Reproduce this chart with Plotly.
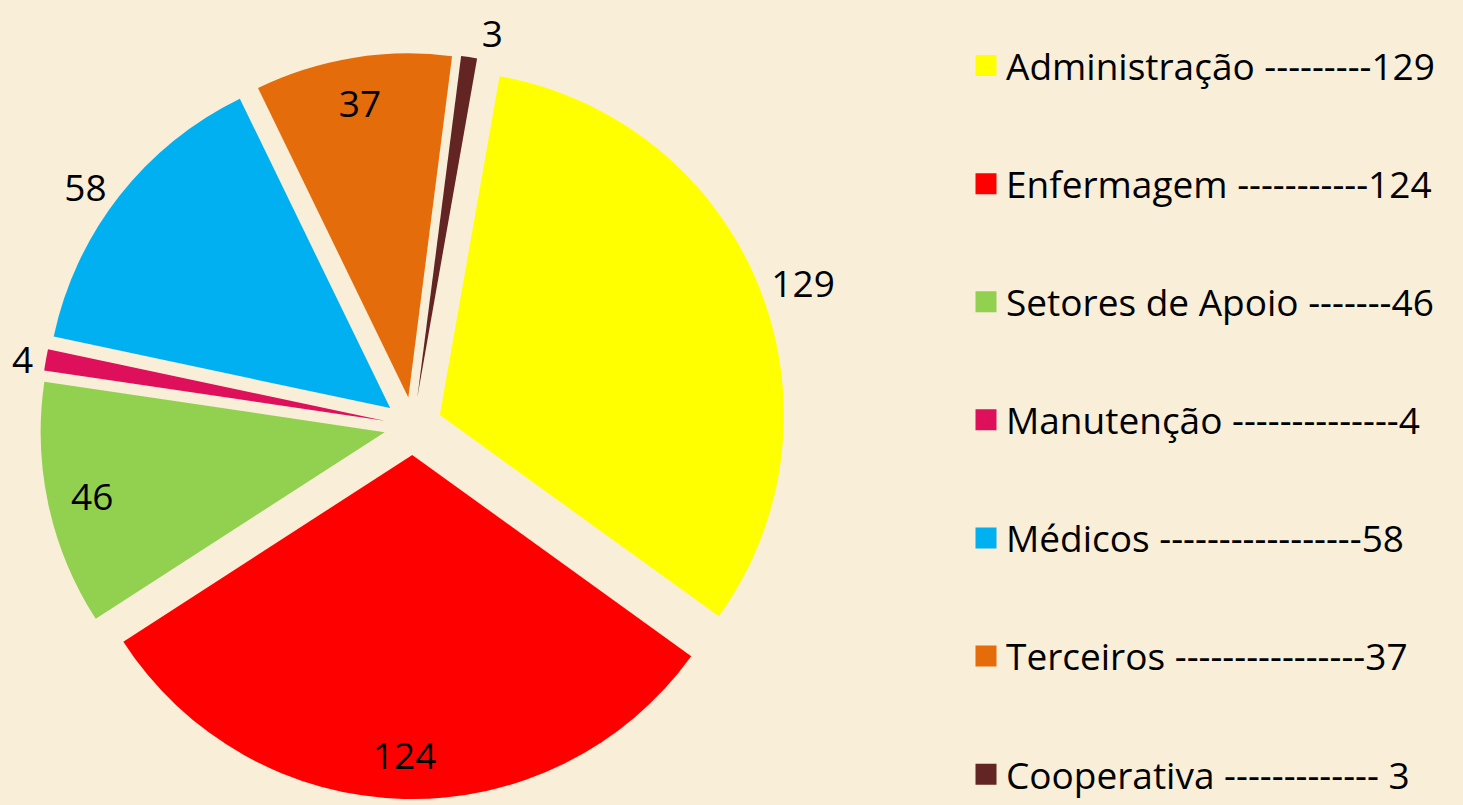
import plotly.graph_objects as go

# ---- data ----
categories = ["Administração", "Enfermagem", "Setores de Apoio", "Manutenção",
              "Médicos", "Terceiros", "Cooperativa"]
values = [129, 124, 46, 4, 58, 37, 3]
colors = ["#FFFF00", "#FF0000", "#92D050", "#DE0F5B", "#00B0F0", "#E46C0A", "#632523"]
legend_labels = [
    "Administração ---------129",
    "Enfermagem -----------124",
    "Setores de Apoio -------46",
    "Manutenção --------------4",
    "Médicos -----------------58",
    "Terceiros ----------------37",
    "Cooperativa ------------- 3",
]
# which values sit outside the pie (True) or just inside the rim (False)
label_outside = [True, False, False, True, True, False, True]

BG = "#F9EED7"
FONT = "Open Sans"

W, H = 1463, 805
cx, cy = 413, 426          # pie centre (px)
r_main, pull_px = 344, 29  # radius and explode distance (px)

p1 = pull_px / r_main
R1 = r_main * (1 + p1)
dom = dict(x=[(cx - R1) / W, (cx + R1) / W],
           y=[(H - (cy + R1)) / H, (H - (cy - R1)) / H])

fig = go.Figure()

# main pie (outside labels)
fig.add_trace(go.Pie(
    labels=categories, values=values, sort=False, direction="clockwise",
    rotation=10, pull=[p1] * len(values),
    marker=dict(colors=colors, line=dict(width=0)),
    textinfo="value",
    textposition=["outside" if o else "none" for o in label_outside],
    textfont=dict(family=FONT, size=37, color="black"),
    showlegend=False, hoverinfo="label+value",
    domain=dom,
))

# transparent helper ring: places the rim labels just inside the slices
fig.add_trace(go.Pie(
    labels=categories, values=values, sort=False, direction="clockwise",
    rotation=10, pull=[p1] * len(values), hole=0.74,
    marker=dict(colors=["rgba(0,0,0,0)"] * len(values), line=dict(width=0)),
    textinfo="value",
    textposition=["none" if o else "inside" for o in label_outside],
    insidetextorientation="horizontal",
    textfont=dict(family=FONT, size=37, color="black"),
    showlegend=False, hoverinfo="skip",
    domain=dom,
))

# legend entries
for lab, col in zip(legend_labels, colors):
    fig.add_trace(go.Scatter(
        x=[None], y=[None], mode="markers", name=lab, legendgroup=lab,
        marker=dict(symbol="square", size=16, color=col,
                    line=dict(width=5, color=col)),
        hoverinfo="skip",
    ))

fig.update_layout(
    width=W, height=H, autosize=False,
    margin=dict(l=0, r=0, t=0, b=0, pad=0, autoexpand=False),
    paper_bgcolor=BG, plot_bgcolor=BG,
    xaxis=dict(visible=False), yaxis=dict(visible=False),
    font=dict(family=FONT, color="black"),
    legend=dict(
        x=966 / W, xanchor="left", y=0, yanchor="bottom",
        bgcolor="rgba(0,0,0,0)", borderwidth=0,
        font=dict(family=FONT, size=37, color="black"),
        tracegroupgap=67, traceorder="grouped",
        itemclick=False, itemdoubleclick=False,
    ),
)

post = (
    "document.body.style.margin='0';"
    "document.body.style.overflow='hidden';"
    "var gd=document.getElementById('{plot_id}');"
    "Plotly.relayout(gd,{width:%d,height:%d});" % (W, H)
)

fig.write_html("out.html", config={"responsive": False, "displayModeBar": False},
               post_script=post)
